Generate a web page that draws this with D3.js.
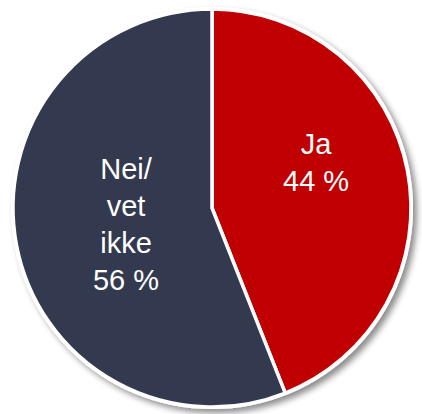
<!DOCTYPE html>
<html>
<head>
<meta charset="utf-8">
<script src="https://cdn.jsdelivr.net/npm/d3@7"></script>
<style>
  body { margin: 0; background: #fff; }
  svg { display: block; }
  .lbl { font-family: "Liberation Sans", Arial, sans-serif; font-size: 29px; fill: #fff; }
</style>
</head>
<body>
<svg id="chart" width="422" height="414"></svg>
<script>
var categories = ["Ja", "Nei/vet ikke"];
var values = [44, 56];
var labelLines = [["Ja", "44 %"], ["Nei/", "vet", "ikke", "56 %"]];
var colors = ["#C00000", "#333A4F"];

var svg = d3.select("#chart"),
    cx = 212, cy = 208, r = 199;

var defs = svg.append("defs");
var f = defs.append("filter").attr("id", "shadow")
    .attr("x", "-10%").attr("y", "-10%").attr("width", "120%").attr("height", "120%");
f.append("feDropShadow")
    .attr("dx", 4).attr("dy", 4).attr("stdDeviation", 3)
    .attr("flood-color", "#000").attr("flood-opacity", 0.45);

var pie = d3.pie().sort(null).value(function(d) { return d; });
var arcs = pie(values);

var arc = d3.arc().innerRadius(0).outerRadius(r);

var g = svg.append("g").attr("transform", "translate(" + cx + "," + cy + ")");

g.append("circle").attr("r", r + 2).attr("fill", "#fff").attr("filter", "url(#shadow)");

g.selectAll("path.slice")
  .data(arcs)
  .enter().append("path")
    .attr("class", "slice")
    .attr("d", arc)
    .attr("fill", function(d, i) { return colors[i]; })
    .attr("stroke", "#fff")
    .attr("stroke-width", 3.5)
    .attr("stroke-linejoin", "round");

// label placement: radius fraction and angle nudge per slice (best-fit look)
var labelR = [0.57, 0.44], angleNudge = [-0.22, 0], lineH = 37;

g.selectAll("text.lbl")
  .data(arcs)
  .enter().append("text")
    .attr("class", "lbl")
    .attr("text-anchor", "middle")
    .each(function(d, i) {
      var a = (d.startAngle + d.endAngle) / 2 + angleNudge[i];
      var x = Math.sin(a) * r * labelR[i],
          y = -Math.cos(a) * r * labelR[i];
      var lines = labelLines[i];
      var y0 = y - (lines.length - 1) * lineH / 2 + 10;
      d3.select(this).selectAll("tspan")
        .data(lines)
        .enter().append("tspan")
          .attr("x", x)
          .attr("y", function(t, j) { return y0 + j * lineH; })
          .text(function(t) { return t; });
    });
</script>
</body>
</html>
